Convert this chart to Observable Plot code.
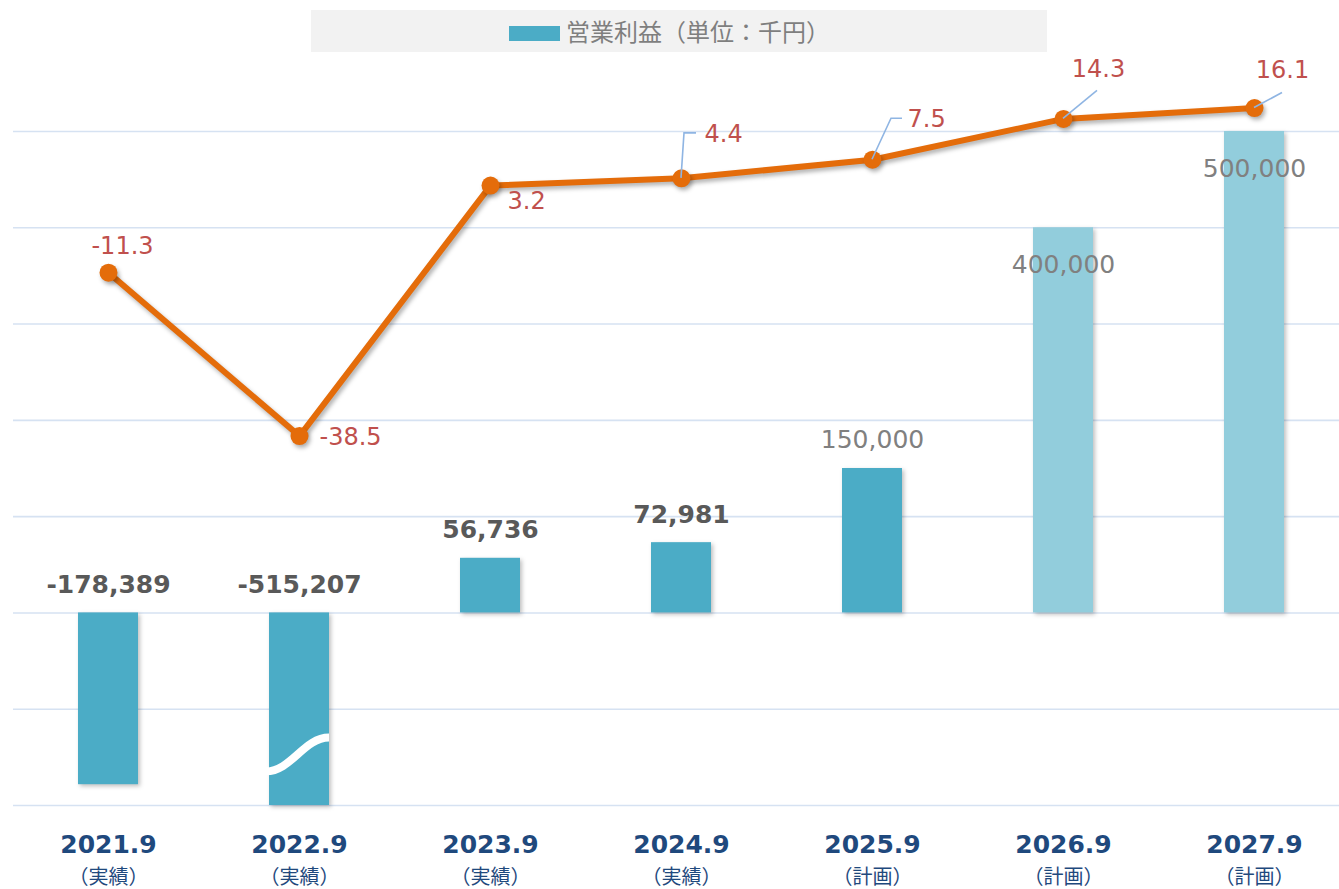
<!DOCTYPE html>
<html><head><meta charset="utf-8">
<script src="https://cdn.jsdelivr.net/npm/d3@7"></script>
<script src="https://cdn.jsdelivr.net/npm/@observablehq/plot@0.6"></script>
<style>
html,body{margin:0;padding:0;background:#fff;overflow:hidden;}
#wrap{position:relative;width:1339px;height:889px;}
#legend{position:absolute;left:311px;top:10px;width:736px;height:42px;background:#F2F2F2;}
#legend .sw{position:absolute;left:198px;top:16px;width:51px;height:15px;background:#4BACC6;}
#legend .tx{position:absolute;left:255px;top:0;height:42px;line-height:42px;font-family:"Noto Sans CJK JP","Noto Sans",sans-serif;font-size:24px;color:#7F7F7F;white-space:nowrap;}
#chart{position:absolute;left:0;top:0;}
</style></head><body>
<div id="wrap"><div id="chart"></div><div id="legend"><div class="sw"></div><div class="tx"></div></div></div>
<script>
// ---- data ----
const periods = ["2021.9", "2022.9", "2023.9", "2024.9", "2025.9", "2026.9", "2027.9"];
const periodTypes = ["（実績）", "（実績）", "（実績）", "（実績）", "（計画）", "（計画）", "（計画）"];
const operatingProfit = [-178389, -515207, 56736, 72981, 150000, 400000, 500000]; // 千円
const lineValues = [-11.3, -38.5, 3.2, 4.4, 7.5, 14.3, 16.1];
const yTicks = [-200000, -100000, 0, 100000, 200000, 300000, 400000, 500000];
const y2Domain = [-100, 12.2]; // secondary axis range (line)
const legendLabel = "営業利益（単位：千円）";

// ---- layout / styles ----
const yDomain = [-200000, 500000];
const toPrimary = v => yDomain[0] + (v - y2Domain[0]) / (y2Domain[1] - y2Domain[0]) * (yDomain[1] - yDomain[0]);
const latin = "'DejaVu Sans', 'Noto Sans CJK JP', sans-serif";
const cjk = "'Noto Sans CJK JP', 'DejaVu Sans', sans-serif";
const lightIdx = new Set([5, 6]);
const insideIdx = new Set([5, 6]);
const lineLabelLayout = [
  {dx: 14, dy: -26, anchor: "middle", leader: null},
  {dx: 20, dy: 1, anchor: "start", leader: null},
  {dx: 17, dy: 16, anchor: "start", leader: null},
  {dx: 23, dy: -44, anchor: "start", leader: [[0,0],[3,-45],[15,-45]]},
  {dx: 35, dy: -40, anchor: "start", leader: [[0,0],[19,-41],[30,-41]]},
  {dx: 35, dy: -50, anchor: "middle", leader: [[0,0],[34,-28]]},
  {dx: 28, dy: -38, anchor: "middle", leader: [[0,0],[28,-15]]}
];

const rows = periods.map((p, i) => ({
  period: p, type: periodTypes[i], value: operatingProfit[i], line: lineValues[i], i,
  actual: periodTypes[i] === "（実績）"
}));
const fmt = v => d3.format(",")(v).replace("\u2212", "-");

document.querySelector("#legend .tx").textContent = legendLabel;

const marks = [
  Plot.ruleY(yTicks, {stroke: "#D6E2F2", strokeWidth: 1.6}),
  Plot.barY(rows.filter(d => !lightIdx.has(d.i)), {x: "period", y: d => Math.max(d.value, yDomain[0]), fill: "#4BACC6"}),
  Plot.barY(rows.filter(d => lightIdx.has(d.i)), {x: "period", y: d => Math.max(d.value, yDomain[0]), fill: "#92CDDC"}),
  // bar value labels: actual (bold, above)
  Plot.text(rows.filter(d => d.actual), {
    x: "period", y: d => Math.max(d.value, 0), text: d => fmt(d.value), dy: -28, lineAnchor: "middle",
    fontSize: 25, fontFamily: latin, fontWeight: "bold", fill: "#595959"
  }),
  // plan labels above
  Plot.text(rows.filter(d => !d.actual && !insideIdx.has(d.i)), {
    x: "period", y: d => Math.max(d.value, 0), text: d => fmt(d.value), dy: -29, lineAnchor: "middle",
    fontSize: 25, fontFamily: latin, fill: "#808080"
  }),
  // plan labels inside
  Plot.text(rows.filter(d => insideIdx.has(d.i)), {
    x: "period", y: "value", text: d => fmt(d.value), dy: 37, lineAnchor: "middle",
    fontSize: 25, fontFamily: latin, fill: "#808080"
  }),
  Plot.line(rows, {x: "period", y: d => toPrimary(d.line), stroke: "#E46C0A", strokeWidth: 6, strokeLinejoin: "round"}),
  Plot.dot(rows, {x: "period", y: d => toPrimary(d.line), r: 9, fill: "#E46C0A", stroke: "none"}),
  ...rows.map((d, i) => Plot.text([d], {
    x: "period", y: d => toPrimary(d.line), text: d => String(d.line),
    dx: lineLabelLayout[i].dx, dy: lineLabelLayout[i].dy, textAnchor: lineLabelLayout[i].anchor,
    lineAnchor: "middle", fontSize: 24, fontFamily: latin, fill: "#C0504D"
  })),
  // category labels
  Plot.text(rows, {x: "period", frameAnchor: "bottom", dy: 39, text: "period", lineAnchor: "middle",
    fontSize: 25, fontWeight: "bold", fontFamily: latin, fill: "#1F497D"}),
  Plot.text(rows, {x: "period", frameAnchor: "bottom", dy: 72, text: "type", lineAnchor: "middle",
    fontSize: 20, fontFamily: cjk, fill: "#1F497D"})
];

const chart = Plot.plot({
  width: 1339, height: 889,
  marginTop: 131, marginBottom: 84, marginLeft: 13, marginRight: 0,
  x: {domain: periods, range: [13, 1349], paddingInner: 0.686, paddingOuter: 0.34, axis: null},
  y: {domain: yDomain, axis: null},
  style: {overflow: "visible", background: "transparent"},
  marks
});
document.getElementById("chart").appendChild(chart);

// scale helpers
const sx = chart.scale("x"), sy = chart.scale("y");
const bx = sx.apply ? sx.apply.bind(sx) : d3.scaleBand(sx.domain, sx.range).paddingInner(sx.paddingInner).paddingOuter(sx.paddingOuter).align(sx.align ?? 0.5);
const ly = sy.apply ? sy.apply.bind(sy) : d3.scaleLinear(sy.domain, sy.range);
const bw = sx.bandwidth;
const ns = "http://www.w3.org/2000/svg";

// shadows
chart.querySelectorAll('g[aria-label="bar"]').forEach(g => g.style.filter = "drop-shadow(2px 2px 2px rgba(0,0,0,0.25))");
chart.querySelectorAll('g[aria-label="line"], g[aria-label="dot"]').forEach(g => g.style.filter = "drop-shadow(2px 3px 2px rgba(0,0,0,0.3))");

// leader lines
const lg = document.createElementNS(ns, "g");
rows.forEach((d, i) => {
  const L = lineLabelLayout[i].leader; if (!L) return;
  const cx = bx(d.period) + bw / 2, cy = ly(toPrimary(d.line));
  const p = document.createElementNS(ns, "path");
  p.setAttribute("d", "M" + L.map(([a, b]) => (cx + a) + "," + (cy + b)).join("L"));
  p.setAttribute("fill", "none"); p.setAttribute("stroke", "#8FB5E3"); p.setAttribute("stroke-width", "1.6");
  lg.appendChild(p);
});
// axis break wave on truncated bar
rows.filter(d => d.value < yDomain[0]).forEach(d => {
  const x0 = bx(d.period) - 3, x1 = bx(d.period) + bw;
  const y0 = ly(-165000), y1 = ly(-130000), xm = (x1 - x0);
  const p = document.createElementNS(ns, "path");
  p.setAttribute("d", `M${x0},${y0}C${x0 + xm * 0.4},${y0} ${x0 + xm * 0.6},${y1} ${x1},${y1}`);
  p.setAttribute("fill", "none"); p.setAttribute("stroke", "#fff"); p.setAttribute("stroke-width", "8");
  lg.appendChild(p);
});
chart.appendChild(lg);
</script>
</body></html>
